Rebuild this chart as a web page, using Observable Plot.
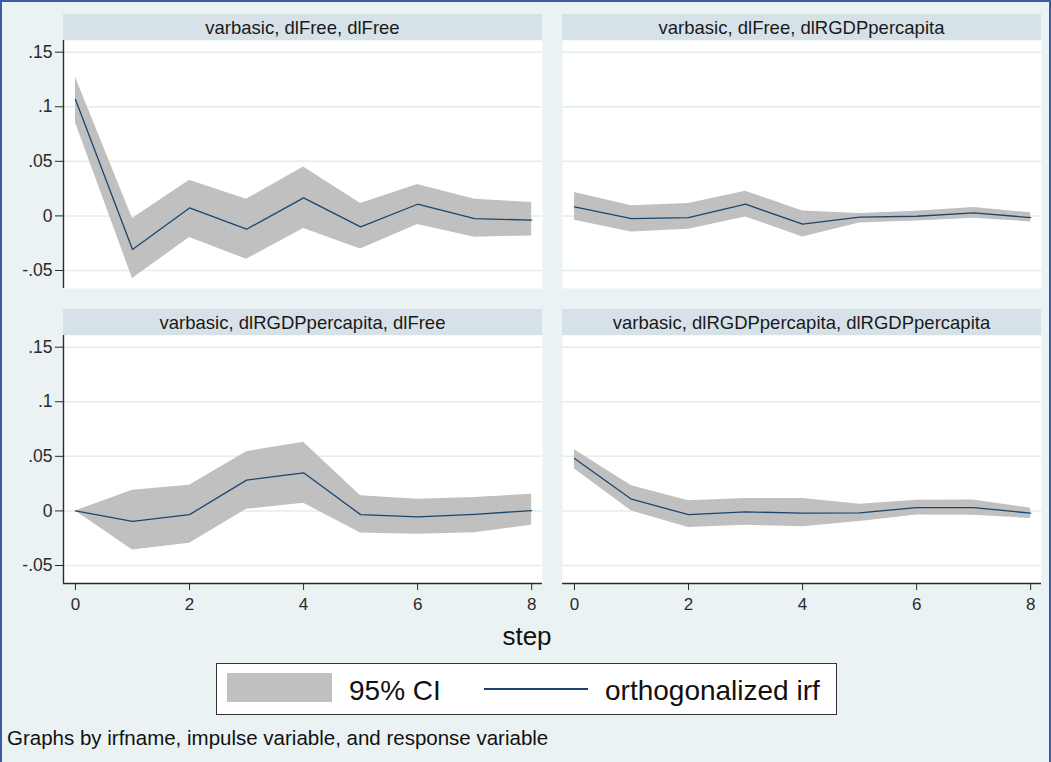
<!DOCTYPE html>
<html>
<head>
<meta charset="utf-8">
<script src="https://cdn.jsdelivr.net/npm/d3@7"></script>
<script src="https://cdn.jsdelivr.net/npm/@observablehq/plot@0.6"></script>
<style>
  html, body { margin: 0; padding: 0; background: #eaf2f3; }
  #chart { position: relative; width: 1051px; height: 762px; background: #eaf2f3; overflow: hidden;
           font-family: "Liberation Sans", Arial, sans-serif; color: #222; }
  #border { position: absolute; left: 0; top: 0; width: 1051px; height: 780px; box-sizing: border-box;
            border: 2px solid #3a5ca5; }
  .hdr { position: absolute; height: 26px; line-height: 27px; background: #d7e2e8; text-align: center;
         font-size: 18.5px; color: #1a1a1a; white-space: nowrap; }
  .panel { position: absolute; }
  .txt { position: absolute; line-height: 1; white-space: nowrap; color: #111; }
</style>
</head>
<body>
<div id="chart"></div>
<script>
// ---------- DATA ----------
const steps = [0, 1, 2, 3, 4, 5, 6, 7, 8];
const panelTitles = [
  "varbasic, dlFree, dlFree",
  "varbasic, dlFree, dlRGDPpercapita",
  "varbasic, dlRGDPpercapita, dlFree",
  "varbasic, dlRGDPpercapita, dlRGDPpercapita"
];
// dlFree -> dlFree
const irfFreeFree = [0.1067, -0.0308, 0.0073, -0.0122, 0.0165, -0.0101, 0.0107, -0.0024, -0.0039];
const loFreeFree  = [0.0853, -0.0574, -0.0198, -0.0397, -0.0116, -0.0302, -0.0079, -0.0195, -0.0183];
const hiFreeFree  = [0.1270, -0.0024, 0.0327, 0.0153, 0.0449, 0.0114, 0.0288, 0.0153, 0.0123];
// dlFree -> dlRGDPpercapita
const irfFreeGDP = [0.0083, -0.0024, -0.0015, 0.0107, -0.0076, -0.0012, -0.0003, 0.0028, -0.0015];
const loFreeGDP  = [-0.0039, -0.0147, -0.0122, -0.0009, -0.0193, -0.0064, -0.0046, -0.0021, -0.0055];
const hiFreeGDP  = [0.0215, 0.0092, 0.0114, 0.0226, 0.0046, 0.0022, 0.0043, 0.0077, 0.0028];
// dlRGDPpercapita -> dlFree
const irfGDPFree = [0, -0.0095, -0.0034, 0.0282, 0.0349, -0.0034, -0.0055, -0.0031, 0.0003];
const loGDPFree  = [0, -0.0358, -0.0297, 0.0015, 0.0070, -0.0202, -0.0214, -0.0199, -0.0132];
const hiGDPFree  = [0, 0.0190, 0.0236, 0.0543, 0.0628, 0.0138, 0.0107, 0.0122, 0.0153];
// dlRGDPpercapita -> dlRGDPpercapita
const irfGDPGDP = [0.0480, 0.0107, -0.0034, -0.0009, -0.0021, -0.0018, 0.0031, 0.0031, -0.0021];
const loGDPGDP  = [0.0383, 0.0000, -0.0153, -0.0132, -0.0144, -0.0098, -0.0037, -0.0040, -0.0070];
const hiGDPGDP  = [0.0560, 0.0230, 0.0092, 0.0113, 0.0113, 0.0061, 0.0098, 0.0101, 0.0025];

const yTicks = [-0.05, 0, 0.05, 0.1, 0.15];
const yTickLabels = ["-.05", "0", ".05", ".1", ".15"];
const xTicks = [0, 2, 4, 6, 8];
const xTitle = "step";
const legendLabels = ["95% CI", "orthogonalized irf"];
const noteText = "Graphs by irfname, impulse variable, and response variable";

// ---------- STYLE / LAYOUT ----------
const bandColor = "#c0c0c0";
const lineColor = "#1a476f";
const axisColor = "#2a2a2a";
const gridColor = "#e4ecef";
const fontFamily = "'Liberation Sans', Arial, sans-serif";
const xDomain = [-0.21, 8.19];
const yDomain = [-0.0665, 0.1607];

const chart = document.getElementById("chart");

function rowsOf(irf, lo, hi) {
  return steps.map((s, k) => ({step: s, irf: irf[k], lo: lo[k], hi: hi[k]}));
}

const panels = [
  {title: panelTitles[0], rows: rowsOf(irfFreeFree, loFreeFree, hiFreeFree), col: 0, row: 0},
  {title: panelTitles[1], rows: rowsOf(irfFreeGDP, loFreeGDP, hiFreeGDP), col: 1, row: 0},
  {title: panelTitles[2], rows: rowsOf(irfGDPFree, loGDPFree, hiGDPFree), col: 0, row: 1},
  {title: panelTitles[3], rows: rowsOf(irfGDPGDP, loGDPGDP, hiGDPGDP), col: 1, row: 1}
];

const colLeft = [63, 562];     // plot-area left edge
const plotW = 479;
const rowTop = [40, 335];      // plot-area top edge
const plotH = 248;

for (const p of panels) {
  const showY = p.col === 0;
  const showX = p.row === 1;
  const marginLeft = showY ? 63 : 0;
  const marginBottom = showX ? 34 : 0;
  const svgLeft = colLeft[p.col] - marginLeft;

  const marks = [
    Plot.frame({fill: "white", stroke: "none"}),
    Plot.gridY(yTicks, {stroke: gridColor, strokeOpacity: 1, strokeWidth: 1.5}),
    Plot.areaY(p.rows, {x: "step", y1: "lo", y2: "hi", fill: bandColor, fillOpacity: 1}),
    Plot.lineY(p.rows, {x: "step", y: "irf", stroke: lineColor, strokeWidth: 1.3})
  ];
  if (showY) {
    marks.push(Plot.ruleX([xDomain[0]], {stroke: axisColor, strokeWidth: 1.4}));
    marks.push(Plot.axisY(yTicks, {
      tickSize: 8, tickPadding: 3, fontSize: 17.5, label: null,
      tickFormat: d => yTickLabels[yTicks.indexOf(d)]
    }));
  }
  if (showX) {
    marks.push(Plot.ruleY([yDomain[0]], {stroke: axisColor, strokeWidth: 1.4}));
    marks.push(Plot.axisX(xTicks, {tickSize: 7, tickPadding: 7, fontSize: 17, label: null}));
  }

  const svg = Plot.plot({
    width: marginLeft + plotW,
    height: plotH + marginBottom,
    marginLeft, marginRight: 0, marginTop: 0, marginBottom,
    x: {domain: xDomain, axis: null},
    y: {domain: yDomain, axis: null},
    style: {background: "transparent", fontFamily, color: axisColor, overflow: "visible"},
    marks
  });
  const wrap = document.createElement("div");
  wrap.className = "panel";
  wrap.style.left = svgLeft + "px";
  wrap.style.top = rowTop[p.row] + "px";
  wrap.appendChild(svg);
  chart.appendChild(wrap);

  const hdr = document.createElement("div");
  hdr.className = "hdr";
  hdr.style.left = colLeft[p.col] + "px";
  hdr.style.width = plotW + "px";
  hdr.style.top = (rowTop[p.row] - 26) + "px";
  hdr.textContent = p.title;
  chart.appendChild(hdr);
}

// x-axis title
const st = document.createElement("div");
st.className = "txt";
st.style.cssText += "left:0;width:1054px;text-align:center;top:623px;font-size:26px;";
st.textContent = xTitle;
chart.appendChild(st);

// legend
const leg = document.createElement("div");
leg.style.cssText = "position:absolute;left:216px;top:663px;width:621px;height:52px;box-sizing:border-box;" +
  "background:#fff;border:1px solid #333;";
chart.appendChild(leg);
const legSvg = d3.create("svg").attr("width", 621).attr("height", 52)
  .style("position", "absolute").style("left", "-1px").style("top", "-1px");
legSvg.append("rect").attr("x", 11).attr("y", 10).attr("width", 105).attr("height", 29).attr("fill", bandColor);
legSvg.append("line").attr("x1", 268).attr("x2", 372).attr("y1", 26).attr("y2", 26)
  .attr("stroke", lineColor).attr("stroke-width", 2);
legSvg.append("text").attr("x", 133).attr("y", 37).attr("font-size", 28).attr("font-family", fontFamily)
  .attr("fill", "#111").text(legendLabels[0]);
legSvg.append("text").attr("x", 389).attr("y", 37).attr("font-size", 28).attr("font-family", fontFamily)
  .attr("fill", "#111").text(legendLabels[1]);
leg.appendChild(legSvg.node());

// note
const note = document.createElement("div");
note.className = "txt";
note.style.cssText += "left:7px;top:727.5px;font-size:20.5px;";
note.textContent = noteText;
chart.appendChild(note);

// outer border
const border = document.createElement("div");
border.id = "border";
chart.appendChild(border);
</script>
</body>
</html>
